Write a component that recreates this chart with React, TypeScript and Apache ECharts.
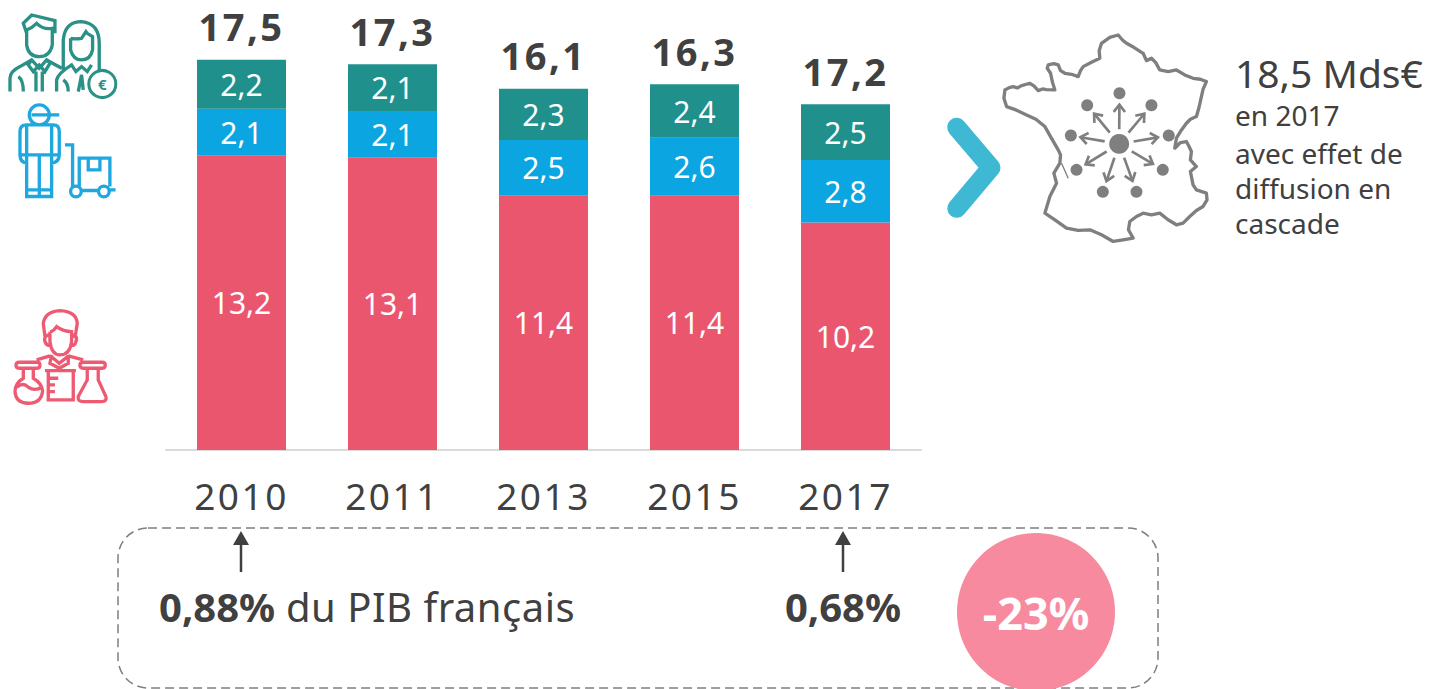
import React, { useEffect, useRef } from "react";
import * as echarts from "echarts";

const years = ["2010", "2011", "2013", "2015", "2017"];
const rnd = [13.2, 13.1, 11.4, 11.4, 10.2];
const support = [2.1, 2.1, 2.5, 2.6, 2.8];
const admin = [2.2, 2.1, 2.3, 2.4, 2.5];
const totals = [17.5, 17.3, 16.1, 16.3, 17.2];

const FONT = "Noto Sans";
const DARK = "#404040";
const GREY = "#7f7f7f";
const RED = "#eb566f";
const BLUE = "#0ba5e2";
const TEAL = "#20908c";

const fmt = (v: number) => v.toFixed(1).replace(".", ",");

const people =
  "M80 100 L70 70 L95 45 L165 62 L165 100 " +
  "M80 90 L80 135 Q85 170 118 170 Q150 170 157 135 L157 85 Q130 90 110 70 Q95 85 80 90 " +
  "M30 275 L30 235 Q30 215 60 200 L95 180 L118 205 L140 180 L185 205 " +
  "M95 180 L85 195 L100 215 L118 195 L135 215 L150 190 L140 180 " +
  "M108 215 L108 275 M127 215 L127 275 M55 230 Q70 240 70 275 " +
  "M190 210 L190 120 Q195 65 245 65 Q298 70 298 130 L298 215 " +
  "M212 115 L212 150 Q220 180 245 180 Q272 180 278 150 L278 110 L262 100 L258 95 L245 115 Q225 118 212 115 " +
  "M170 275 L170 240 Q175 220 215 195 L228 215 L245 200 L262 215 L275 195 " +
  "M235 275 L245 225 L250 270 M190 240 Q205 250 205 275";

const worker =
  "M88 345 A30 30 0 1 1 148 345 A30 30 0 1 1 88 345 M95 345 L178 345 " +
  "M60 465 L60 395 Q60 375 80 375 L160 375 Q178 375 178 395 L178 465 " +
  "M80 375 L80 590 L155 590 L155 375 M60 465 L178 465 " +
  "M60 465 Q60 488 80 490 M178 465 Q178 488 155 490 M118 465 L118 590 M80 570 L155 570 " +
  "M195 435 L218 435 L218 560 M238 565 L238 475 L330 475 L330 560 " +
  "M265 475 L265 510 L300 510 L300 475 M243 572 L295 572 " +
  "M212 575 A16 16 0 1 1 244 575 A16 16 0 1 1 212 575 " +
  "M296 575 A16 16 0 1 1 328 575 A16 16 0 1 1 296 575 M328 570 L347 570";

const scientist =
  "M135 110 L130 70 Q135 35 180 32 Q230 35 232 70 L225 115 " +
  "M150 95 L150 125 Q155 165 180 165 Q210 165 215 125 L215 95 Q190 95 170 80 Q160 95 150 95 " +
  "M150 105 Q130 105 135 125 Q140 140 155 135 M215 105 Q235 105 228 125 Q225 140 210 135 " +
  "M155 165 L150 190 L178 205 L205 190 L205 165 M152 168 L178 190 L205 168 " +
  "M110 180 L150 168 M205 168 L250 180 " +
  "M58 187 L112 187 Q120 187 120 196 Q120 205 112 205 L58 205 Q48 205 48 196 Q48 187 58 187 " +
  "M70 205 L70 235 Q45 250 45 275 Q48 310 85 310 Q125 310 128 272 Q125 250 100 235 L100 205 " +
  "M50 262 Q70 245 85 262 Q105 275 125 262 " +
  "M135 212 L228 212 M145 212 L145 300 L220 300 L220 212 " +
  "M145 235 L175 235 M145 255 L165 255 M145 275 L165 275 " +
  "M250 187 L307 187 Q316 187 316 196 Q316 205 307 205 L250 205 Q240 205 240 196 Q240 187 250 187 " +
  "M262 205 L262 240 L235 290 Q232 305 250 305 L305 305 Q322 305 318 290 L295 240 L295 205";

const franceOutline = [
  [225, 210], [238, 203], [250, 200], [262, 204], [275, 197], [300, 190], [312, 198], [325, 212], [338, 207],
  [350, 209], [375, 210], [368, 188], [362, 160], [352, 145], [355, 135], [372, 131], [385, 135], [392, 152],
  [405, 160], [425, 163], [445, 170], [452, 152], [460, 140], [485, 127], [510, 115], [508, 92], [515, 70],
  [540, 52], [565, 45], [578, 60], [590, 70], [612, 82], [640, 100], [650, 122], [665, 115], [678, 128],
  [690, 150], [715, 155], [740, 150], [765, 165], [790, 175], [812, 178], [830, 185], [820, 208], [815, 230],
  [808, 262], [800, 290], [782, 298], [770, 310], [752, 335], [740, 355], [735, 385], [752, 368], [770, 365],
  [778, 380], [785, 395], [782, 420], [800, 440], [782, 455], [785, 470], [790, 495], [800, 510], [830, 520],
  [832, 540], [820, 560], [800, 572], [780, 590], [760, 610], [740, 615], [715, 600], [690, 580], [665, 585],
  [640, 580], [620, 590], [600, 605], [596, 630], [610, 655], [580, 660], [550, 665], [515, 645], [480, 630],
  [445, 632], [410, 625], [375, 600], [345, 580], [360, 530], [380, 490], [372, 460], [390, 430], [392, 405],
  [385, 390], [362, 350], [345, 320], [318, 298], [290, 285], [258, 270], [230, 260], [222, 235], [225, 210],
];
const franceDots = [
  [569, 220], [472, 256], [665, 256], [423, 347], [717, 347], [440, 450], [699, 450], [519, 516], [620, 516],
];
const hub = [568, 372];

function franceChildren(): any[] {
  const line = { stroke: GREY, lineWidth: 10, fill: "none" as const, lineJoin: "round", lineCap: "round" };
  const out: any[] = [
    { type: "polyline", shape: { points: franceOutline }, style: line },
    { type: "line", shape: { x1: 395, y1: 430, x2: 415, y2: 475 }, style: { stroke: GREY, lineWidth: 4 } },
    { type: "circle", shape: { cx: hub[0], cy: hub[1], r: 30 }, style: { fill: GREY } },
  ];
  for (const [x, y] of franceDots) {
    out.push({ type: "circle", shape: { cx: x, cy: y, r: 18 }, style: { fill: GREY } });
    const dx = x - hub[0];
    const dy = y - hub[1];
    const d = Math.hypot(dx, dy);
    const ux = dx / d;
    const uy = dy / d;
    const sx = hub[0] + ux * 44;
    const sy = hub[1] + uy * 44;
    const tx = hub[0] + ux * 118;
    const ty = hub[1] + uy * 118;
    out.push({ type: "line", shape: { x1: sx, y1: sy, x2: tx, y2: ty }, style: { stroke: GREY, lineWidth: 8 } });
    out.push({
      type: "polyline",
      shape: {
        points: [
          [tx - ux * 22 - uy * 17, ty - uy * 22 + ux * 17],
          [tx, ty],
          [tx - ux * 22 + uy * 17, ty - uy * 22 - ux * 17],
        ],
      },
      style: { stroke: GREY, lineWidth: 8, fill: "none" },
    });
  }
  return out;
}

function upArrow(x: number, top: number, bottom: number): any[] {
  return [
    { type: "line", shape: { x1: x, y1: top + 12, x2: x, y2: bottom }, style: { stroke: DARK, lineWidth: 2.5 } },
    { type: "polygon", shape: { points: [[x, top], [x - 8, top + 14], [x + 8, top + 14]] }, style: { fill: DARK } },
  ];
}

function sideText(text: string, y: number, size: number): any {
  return {
    type: "text",
    x: 1235,
    y,
    style: { text, fill: DARK, font: `${size}px "${FONT}"`, textAlign: "left", textVerticalAlign: "middle" },
  };
}

export default function App() {
  const ref = useRef<HTMLDivElement>(null);

  useEffect(() => {
    const chart = echarts.init(ref.current!, null, { renderer: "svg" });
    echarts.graphic.registerShape("iconPeople", echarts.graphic.extendPath(people, {}));
    echarts.graphic.registerShape("iconWorker", echarts.graphic.extendPath(worker, {}));
    echarts.graphic.registerShape("iconScientist", echarts.graphic.extendPath(scientist, {}));

    const segLabel = {
      show: true,
      position: "inside" as const,
      color: "#ffffff",
      fontFamily: FONT,
      fontSize: 30,
      formatter: (p: any) => fmt(p.value),
    };
    const seg = (name: string, data: number[], color: string) => ({
      name,
      type: "bar" as const,
      stack: "total",
      data,
      barWidth: 89,
      itemStyle: { color },
      label: segLabel,
    });
    const stackTops = years.map((_, i) => rnd[i] + support[i] + admin[i]);

    chart.setOption({
      animation: false,
      backgroundColor: "#ffffff",
      grid: { left: 166, width: 755, top: 4, height: 446 },
      xAxis: {
        type: "category",
        data: years,
        axisTick: { show: false },
        axisLine: { lineStyle: { color: "#d9d9d9", width: 2 } },
        axisLabel: { color: DARK, fontFamily: FONT, fontSize: 37, margin: 27 },
      },
      yAxis: { type: "value", min: 0, max: 20, show: false },
      series: [
        seg("Recherche", rnd, RED),
        seg("Support", support, BLUE),
        seg("Administration", admin, TEAL),
        {
          name: "Total",
          type: "scatter",
          data: stackTops,
          symbol: "circle",
          symbolSize: 1,
          itemStyle: { color: "rgba(0,0,0,0)", opacity: 1 },
          label: {
            show: true,
            position: "top",
            distance: 14,
            color: DARK,
            opacity: 1,
            fontFamily: FONT,
            fontWeight: "bold",
            fontSize: 38,
            formatter: (p: any) => fmt(totals[p.dataIndex]),
          },
        },
      ],
      graphic: [
        { type: "iconPeople", x: 0, y: 0, scaleX: 1 / 3, scaleY: 1 / 3, style: { stroke: "#2a9187", lineWidth: 10, fill: "none" } },
        { type: "circle", shape: { cx: 102.3, cy: 84, r: 13.5 }, style: { fill: "#ffffff", stroke: "#2a9187", lineWidth: 3 } },
        { type: "text", x: 102.3, y: 84, style: { text: "€", fill: "#2a9187", font: `bold 15px "${FONT}"`, textAlign: "center", textVerticalAlign: "middle" } },
        { type: "iconWorker", x: 0, y: 0, scaleX: 1 / 3, scaleY: 1 / 3, style: { stroke: "#1fa8e0", lineWidth: 10, fill: "none" } },
        { type: "iconScientist", x: 0, y: 300, scaleX: 1 / 3, scaleY: 1 / 3, style: { stroke: "#ee5a72", lineWidth: 10, fill: "none" } },
        {
          type: "polyline",
          shape: { points: [[956.7, 127.3], [991, 167.7], [956.7, 208.3]] },
          style: { stroke: "#3fb8d4", lineWidth: 19, fill: "none", lineCap: "round", lineJoin: "round" },
        },
        { type: "group", x: 930, y: 20, scaleX: 1 / 3, scaleY: 1 / 3, children: franceChildren() },
        sideText("18,5 Mds€", 72, 39),
        sideText("en 2017", 115, 28),
        sideText("avec effet de", 153, 28),
        sideText("diffusion en", 188, 28),
        sideText("cascade", 223, 28),
        {
          type: "rect",
          shape: { x: 118, y: 528, width: 1040, height: 160, r: 30 },
          style: { fill: "none", stroke: GREY, lineWidth: 1.5, lineDash: [9, 5] },
        },
        ...upArrow(241, 531, 572),
        ...upArrow(843, 531, 572),
        {
          type: "text",
          x: 159,
          y: 606,
          style: {
            text: "{b|0,88%} du PIB français",
            fill: DARK,
            font: `40px "${FONT}"`,
            textAlign: "left",
            textVerticalAlign: "middle",
            rich: { b: { font: `bold 40px "${FONT}"`, fill: DARK } },
          },
        },
        { type: "text", x: 843, y: 606, style: { text: "0,68%", fill: DARK, font: `bold 40px "${FONT}"`, textAlign: "center", textVerticalAlign: "middle" } },
        { type: "circle", shape: { cx: 1036, cy: 612, r: 79 }, style: { fill: "#f78a9e" } },
        { type: "text", x: 1036, y: 612, style: { text: "-23%", fill: "#ffffff", font: `bold 45px "${FONT}"`, textAlign: "center", textVerticalAlign: "middle" } },
      ],
    });
    return () => chart.dispose();
  }, []);

  return (
    <>
      <style>{`text[style*="37px"]{letter-spacing:2.5px} text[style*="38px"]{letter-spacing:2.5px} text[style*="40px"]:not([style*="bold"]){letter-spacing:.5px}`}</style>
      <div ref={ref} style={{ position: "fixed", left: 0, top: 0, width: 1439, height: 689 }} />
    </>
  );
}
